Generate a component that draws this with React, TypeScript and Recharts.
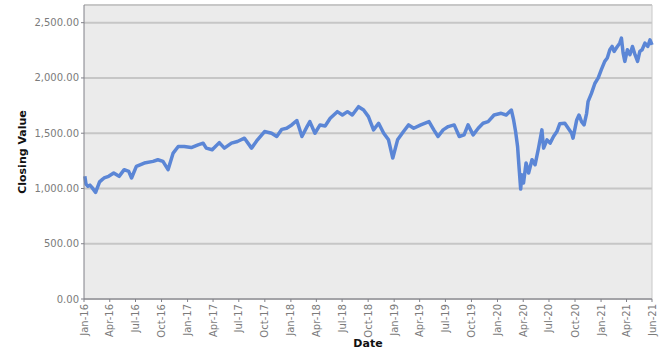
import { CartesianGrid, Line, LineChart, ReferenceLine, XAxis, YAxis } from "recharts";

const DATES = [
  "2016-01-04", "2016-01-08", "2016-01-15", "2016-01-22", "2016-01-29", "2016-02-11",
  "2016-02-25", "2016-03-05", "2016-03-12", "2016-03-28", "2016-04-15", "2016-05-04",
  "2016-05-22", "2016-06-07", "2016-06-17", "2016-07-04", "2016-08-01", "2016-09-01",
  "2016-09-18", "2016-10-06", "2016-10-24", "2016-11-11", "2016-11-29", "2016-12-20",
  "2017-01-14", "2017-02-07", "2017-02-25", "2017-03-08", "2017-03-29", "2017-04-23",
  "2017-05-11", "2017-06-05", "2017-06-26", "2017-07-21", "2017-08-15", "2017-09-05",
  "2017-09-30", "2017-10-25", "2017-11-12", "2017-11-30", "2017-12-17", "2018-01-04",
  "2018-01-22", "2018-02-09", "2018-02-27", "2018-03-09", "2018-03-27", "2018-04-14",
  "2018-05-02", "2018-05-20", "2018-06-14", "2018-07-02", "2018-07-20", "2018-08-06",
  "2018-08-28", "2018-09-15", "2018-10-02", "2018-10-20", "2018-11-07", "2018-11-25",
  "2018-12-12", "2018-12-27", "2019-01-13", "2019-02-03", "2019-02-21", "2019-03-11",
  "2019-04-05", "2019-05-04", "2019-05-21", "2019-06-05", "2019-06-23", "2019-07-11",
  "2019-08-01", "2019-08-19", "2019-09-05", "2019-09-19", "2019-10-07", "2019-10-25",
  "2019-11-11", "2019-11-29", "2019-12-20", "2020-01-14", "2020-02-01", "2020-02-19",
  "2020-02-27", "2020-03-05", "2020-03-12", "2020-03-17", "2020-03-23", "2020-03-27",
  "2020-04-02", "2020-04-11", "2020-04-20", "2020-05-02", "2020-05-13", "2020-05-25",
  "2020-06-06", "2020-06-12", "2020-06-24", "2020-07-05", "2020-07-17", "2020-07-29",
  "2020-08-08", "2020-08-26", "2020-09-07", "2020-09-19", "2020-09-24", "2020-10-07",
  "2020-10-15", "2020-10-24", "2020-11-02", "2020-11-11", "2020-11-16", "2020-11-28",
  "2020-12-10", "2020-12-22", "2021-01-02", "2021-01-14", "2021-01-23", "2021-02-01",
  "2021-02-09", "2021-02-16", "2021-02-24", "2021-03-08", "2021-03-14", "2021-03-20",
  "2021-03-26", "2021-04-04", "2021-04-13", "2021-04-22", "2021-05-01", "2021-05-10",
  "2021-05-18", "2021-05-26", "2021-06-05", "2021-06-15", "2021-06-23", "2021-06-30",
];

const CLOSING = [
  1110, 1040, 1020, 1030, 1010, 965,
  1060, 1080, 1095, 1110, 1140, 1110,
  1170, 1155, 1095, 1200, 1230, 1245,
  1260, 1245, 1170, 1320, 1380, 1380,
  1370, 1395, 1410, 1365, 1350, 1415,
  1365, 1410, 1425, 1455, 1365, 1440,
  1515, 1500, 1470, 1535, 1545, 1575,
  1615, 1470, 1560, 1605, 1500, 1575,
  1565, 1635, 1695, 1665, 1695, 1665,
  1740, 1710, 1650, 1530, 1590, 1500,
  1440, 1275, 1440, 1515, 1575, 1545,
  1575, 1605, 1530, 1470, 1530, 1560,
  1575, 1470, 1485, 1575, 1485, 1545,
  1590, 1605, 1665, 1680, 1665, 1710,
  1620, 1515, 1380, 1200, 995, 1125,
  1050, 1230, 1140, 1260, 1215, 1365,
  1530, 1365, 1440, 1410, 1470, 1515,
  1585, 1590, 1545, 1500, 1455, 1620,
  1665, 1605, 1575, 1680, 1785, 1860,
  1950, 2000, 2075, 2150, 2180, 2255,
  2285, 2240, 2270, 2315, 2360, 2225,
  2150, 2255, 2210, 2285, 2210, 2150,
  2240, 2255, 2315, 2285, 2345, 2300,
];

const TICK_DATES = [
  "2016-01-01", "2016-04-01", "2016-07-01", "2016-10-01",
  "2017-01-01", "2017-04-01", "2017-07-01", "2017-10-01",
  "2018-01-01", "2018-04-01", "2018-07-01", "2018-10-01",
  "2019-01-01", "2019-04-01", "2019-07-01", "2019-10-01",
  "2020-01-01", "2020-04-01", "2020-07-01", "2020-10-01",
  "2021-01-01", "2021-04-01", "2021-06-30",
];

const TICK_LABELS = [
  "Jan-16", "Apr-16", "Jul-16", "Oct-16",
  "Jan-17", "Apr-17", "Jul-17", "Oct-17",
  "Jan-18", "Apr-18", "Jul-18", "Oct-18",
  "Jan-19", "Apr-19", "Jul-19", "Oct-19",
  "Jan-20", "Apr-20", "Jul-20", "Oct-20",
  "Jan-21", "Apr-21", "Jun-21",
];

const Y_TICKS = [0, 500, 1000, 1500, 2000, 2500];
const Y_MAX = 2660;

const toTime = (d: string) => Date.parse(d + "T00:00:00Z");

const rows = DATES.map((d, i) => ({ t: toTime(d), value: CLOSING[i] }));
const tickTimes = TICK_DATES.map(toTime);
const tickLabel = new Map(tickTimes.map((t, i) => [t, TICK_LABELS[i]]));
const xStart = tickTimes[0];
const xEnd = tickTimes[tickTimes.length - 1];

const fmtValue = (v: number) =>
  v.toLocaleString("en-US", { minimumFractionDigits: 2, maximumFractionDigits: 2 });

function DateTick({ x, y, payload }: any) {
  return (
    <text
      x={x}
      y={y}
      dy="0.35em"
      textAnchor="end"
      transform={`rotate(-90 ${x} ${y})`}
      fontSize={10}
      fontFamily="DejaVu Sans, Verdana, sans-serif"
      fill="#7b7b7b"
    >
      {tickLabel.get(payload.value)}
    </text>
  );
}

export default function App() {
  return (
    <div style={{ position: "absolute", left: 0, top: 0, background: "#fff" }}>
      <LineChart
        width={668}
        height={357}
        data={rows}
        margin={{ top: 5, right: 16, left: 0, bottom: 0 }}
      >
        <CartesianGrid
          vertical={false}
          stroke="#c6c6c6"
          strokeWidth={2}
          fill="#ebebeb"
          fillOpacity={1}
        />
        <XAxis
          dataKey="t"
          type="number"
          scale="time"
          domain={[xStart, xEnd]}
          ticks={tickTimes}
          interval={0}
          height={58}
          tickSize={3}
          tickMargin={2}
          tick={<DateTick />}
          stroke="#808088"
          label={{
            value: "Date",
            position: "insideBottom",
            offset: 10,
            style: {
              fontSize: 11,
              fontWeight: "bold",
              fontFamily: "DejaVu Sans, Verdana, sans-serif",
              fill: "#111",
            },
          }}
        />
        <YAxis
          type="number"
          domain={[0, Y_MAX]}
          ticks={Y_TICKS}
          width={84}
          tickSize={3}
          tickMargin={2}
          tickFormatter={fmtValue}
          stroke="#808088"
          tick={{ fontSize: 10, fill: "#7b7b7b", fontFamily: "DejaVu Sans, Verdana, sans-serif" }}
          label={{
            value: "Closing Value",
            angle: -90,
            position: "insideLeft",
            offset: 22,
            style: {
              textAnchor: "middle",
              fontSize: 11,
              fontWeight: "bold",
              fontFamily: "DejaVu Sans, Verdana, sans-serif",
              fill: "#111",
            },
          }}
        />
        <ReferenceLine y={Y_MAX} stroke="#c8c8c8" strokeWidth={1} />
        <ReferenceLine x={xEnd} stroke="#c8c8c8" strokeWidth={1} />
        <Line
          type="linear"
          dataKey="value"
          stroke="#5b86d6"
          strokeWidth={3.5}
          strokeLinejoin="round"
          dot={false}
          isAnimationActive={false}
        />
      </LineChart>
    </div>
  );
}
